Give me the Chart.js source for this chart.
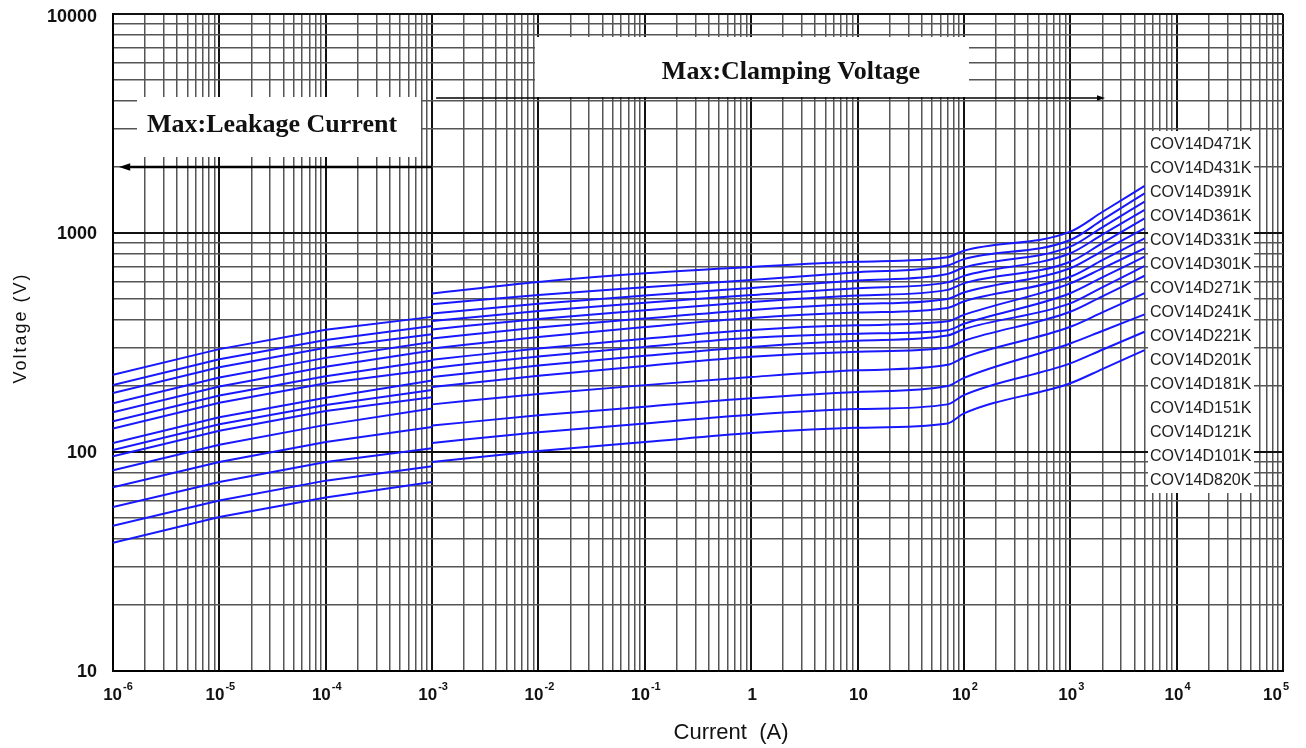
<!DOCTYPE html>
<html>
<head>
<meta charset="utf-8">
<title>COV14D - Voltage vs Current</title>
<script src="https://cdn.jsdelivr.net/npm/chart.js@4/dist/chart.umd.min.js"></script>
<style>
  html, body { margin: 0; padding: 0; background: #fff; }
  #grafico { display: block; }
</style>
</head>
<body>
<canvas id="grafico" width="1306" height="748"></canvas>
<script>
// modelos, de la curva mas baja a la mas alta
const models = ['COV14D820K', 'COV14D101K', 'COV14D121K', 'COV14D151K', 'COV14D181K',
  'COV14D201K', 'COV14D221K', 'COV14D241K', 'COV14D271K', 'COV14D301K',
  'COV14D331K', 'COV14D361K', 'COV14D391K', 'COV14D431K', 'COV14D471K'];

// zona de fuga (Max: Leakage Current), corriente en A
const leakCurrent = [1e-6, 1e-5, 1e-4, 1e-3];
const leakAt1uA   = [38.5, 46, 56, 69, 82.5, 95.5, 102, 110, 128, 138, 152, 167, 186, 202, 225];
const leakAt10uA  = [50.5, 60, 73, 90, 108, 125, 134, 144, 168, 181, 199, 219, 244, 265, 295];
const leakAt100uA = [62, 74, 90, 111, 133, 154, 164, 177, 206, 222, 245, 269, 299, 325, 362];
const leakAt1mA   = [73, 86, 104, 130, 158, 178, 192, 212, 238, 262, 291, 318, 345, 376, 414];

// zona de limitacion (Max: Clamping Voltage)
const clampCurrent = [1e-3, 1e-2, 1e-1, 1, 10, 70, 100, 1000, 2000, 5000];
const clampAt1mA   = [90, 110, 132, 165, 198, 220, 242, 264, 297, 330, 363, 396, 429, 473, 530];
const clampAt10mA  = [101, 123, 147, 184, 223, 248, 273, 297, 335, 370, 405, 440, 475, 521, 598];
const clampAt100mA = [111, 135, 161, 202, 247, 275, 302, 329, 372, 407, 444, 480, 518, 565, 655];
const clampAt1A    = [122, 148, 176, 220, 272, 302, 332, 361, 409, 445, 484, 521, 561, 610, 700];
const clampAt10A   = [129, 157, 188, 236, 287, 322, 347, 379, 433, 474, 518, 560, 607, 662, 739];
const clampAt70A   = [135, 165, 200, 250, 300, 340, 360, 395, 455, 500, 550, 595, 650, 710, 775];
const clampAt100A  = [150, 182, 218, 270, 322, 364, 385, 423, 487, 535, 589, 637, 696, 760, 830];
const clampAt1kA   = [206, 254, 313, 373, 437, 477, 531, 589, 631, 690, 739, 808, 866, 929, 1014];
const clampAt2kA   = [239, 293, 357, 434, 514, 565, 627, 690, 751, 827, 899, 983, 1062, 1147, 1247];
const clampAt5kA   = [292, 354, 425, 531, 638, 707, 780, 851, 946, 1050, 1167, 1274, 1390, 1518, 1640];

// etiquetas de ejes
const yTickLabels = [10, 100, 1000, 10000];
const xTickExps = [-6, -5, -4, -3, -2, -1, 0, 1, 2, 3, 4, 5];

const lineColor = 'rgb(24, 24, 255)';
const sans = '"Liberation Sans", Arial, sans-serif';
const serif = '"Liberation Serif", "Times New Roman", serif';

const leakCols = [leakAt1uA, leakAt10uA, leakAt100uA, leakAt1mA];
const clampCols = [clampAt1mA, clampAt10mA, clampAt100mA, clampAt1A, clampAt10A,
  clampAt70A, clampAt100A, clampAt1kA, clampAt2kA, clampAt5kA];

// rejilla logaritmica 1..9 por decada
const logGrid = (lo, hi) => {
  let t = [];
  for (let e = lo; e < hi; e++) {
    for (let m = 1; m < 10; m++) t.push(m * Math.pow(10, e));
  }
  t.push(Math.pow(10, hi));
  return t;
};
const xGrid = logGrid(-6, 5),
      yGrid = logGrid(1, 4);

const isDecade = v => {
  let l = Math.log10(v);
  return Math.abs(l - Math.round(l)) < 1e-6;
};

const serie = (label, currents, cols, i, mode) => ({
  label,
  data: currents.map((c, k) => ({ x: c, y: cols[k][i] })),
  borderColor: lineColor,
  borderWidth: 2,
  pointRadius: 0,
  fill: false,
  tension: 0,
  cubicInterpolationMode: mode
});

let datasets = [];
models.forEach((m, i) => {
  datasets.push(serie(m + ' leak', leakCurrent, leakCols, i, 'default'));
  datasets.push(serie(m, clampCurrent, clampCols, i, 'monotone'));
});

const gridOpts = {
  color: c => isDecade(c.tick.value) ? '#111' : '#555',
  lineWidth: c => isDecade(c.tick.value) ? 2 : 1.5,
  drawTicks: false
};

const arrow = (ctx, x1, x2, y, w, head) => {
  ctx.save();
  ctx.strokeStyle = '#000';
  ctx.fillStyle = '#000';
  ctx.lineWidth = w;
  ctx.beginPath();
  ctx.moveTo(x1, y);
  ctx.lineTo(x2, y);
  ctx.stroke();
  let d = x2 > x1 ? 1 : -1;
  ctx.beginPath();
  ctx.moveTo(x2 + d * head, y);
  ctx.lineTo(x2 - d * head * 0.6, y - head * 0.55);
  ctx.lineTo(x2 - d * head * 0.6, y + head * 0.55);
  ctx.closePath();
  ctx.fill();
  ctx.restore();
};

const annotate = {
  id: 'annotate',
  beforeDatasetsDraw(chart) {
    const ctx = chart.ctx, x = chart.scales.x;
    ctx.save();
    ctx.fillStyle = '#fff';
    ctx.fillRect(137, 97, 284, 60);    // Max:Leakage Current
    ctx.fillRect(535, 37, 434, 60);    // Max:Clamping Voltage
    ctx.fillRect(1148, 131, 106, 362); // lista de modelos
    ctx.restore();
    arrow(ctx, x.getPixelForValue(1e-3), 126, 167, 2.5, 7);
    arrow(ctx, x.getPixelForValue(1e-3) + 4, 1100, 98, 1.4, 5);
  },
  afterDraw(chart) {
    const ctx = chart.ctx, x = chart.scales.x, y = chart.scales.y;
    ctx.save();
    ctx.fillStyle = '#111';

    // textos de las cajas
    ctx.font = 'bold 26px ' + serif;
    ctx.textAlign = 'center';
    ctx.textBaseline = 'middle';
    ctx.fillText('Max:Leakage Current', 272, 125);
    ctx.fillText('Max:Clamping Voltage', 791, 72);

    // modelos a la derecha, arriba el mayor
    ctx.font = '16px ' + sans;
    ctx.textAlign = 'left';
    ctx.fillStyle = '#222';
    models.slice().reverse().forEach((m, k) => {
      ctx.fillText(m, 1150, 145 + k * 23.96);
    });

    // eje y
    ctx.fillStyle = '#111';
    ctx.font = 'bold 18px ' + sans;
    ctx.textAlign = 'right';
    yTickLabels.forEach(v => {
      ctx.fillText(String(v), 97, Math.max(y.getPixelForValue(v) + 1, 17));
    });

    // eje x con exponentes
    ctx.textBaseline = 'alphabetic';
    ctx.textAlign = 'left';
    xTickExps.forEach(e => {
      let base = e === 0 ? '1' : '10',
          sup = (e === 0 || e === 1) ? '' : String(e);
      ctx.font = 'bold 17px ' + sans;
      let wb = ctx.measureText(base).width;
      ctx.font = 'bold 11px ' + sans;
      let ws = sup ? ctx.measureText(sup).width + 1 : 0;
      let cx = Math.min(Math.max(x.getPixelForValue(Math.pow(10, e)) + 1, 118), 1276);
      let x0 = cx - (wb + ws) / 2;
      ctx.font = 'bold 17px ' + sans;
      ctx.fillText(base, x0, 700);
      if (sup) {
        ctx.font = 'bold 11px ' + sans;
        ctx.fillText(sup, x0 + wb + 1, 690);
      }
    });

    // titulos
    ctx.font = '22px ' + sans;
    ctx.textAlign = 'center';
    ctx.textBaseline = 'middle';
    ctx.fillText('Current  (A)', 731, 733);

    ctx.translate(21, 328);
    ctx.rotate(-Math.PI / 2);
    ctx.font = '18px ' + sans;
    ctx.letterSpacing = '2px';
    ctx.fillText('Voltage (V)', 0, 0);
    ctx.restore();
  }
};

new Chart(document.getElementById('grafico').getContext('2d'), {
  type: 'line',
  data: { datasets },
  options: {
    responsive: false,
    animation: false,
    devicePixelRatio: 1,
    layout: { padding: { left: 113, right: 23, top: 14, bottom: 77 } },
    plugins: {
      legend: { display: false },
      tooltip: { enabled: false }
    },
    scales: {
      x: {
        type: 'logarithmic',
        min: 1e-6,
        max: 1e5,
        afterBuildTicks: ax => { ax.ticks = xGrid.map(v => ({ value: v })); },
        ticks: { display: false, autoSkip: false },
        grid: gridOpts,
        border: { display: true, color: '#000', width: 2 }
      },
      y: {
        type: 'logarithmic',
        min: 10,
        max: 10000,
        afterBuildTicks: ax => { ax.ticks = yGrid.map(v => ({ value: v })); },
        ticks: { display: false, autoSkip: false },
        grid: gridOpts,
        border: { display: true, color: '#000', width: 2 }
      }
    }
  },
  plugins: [annotate]
});
</script>
</body>
</html>
